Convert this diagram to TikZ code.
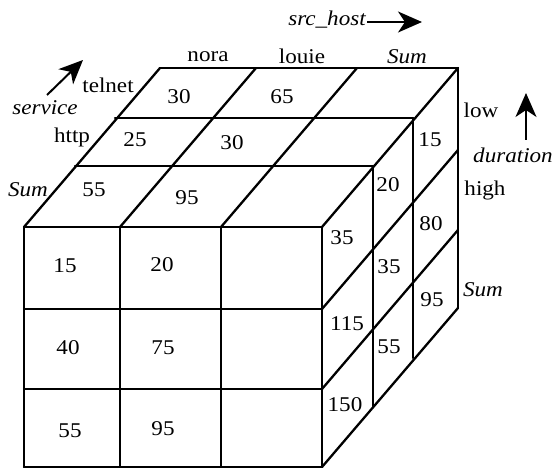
\documentclass[tikz,border=0pt]{standalone}
\usepackage{fontspec}
\setmainfont[FakeStretch=1.1]{Liberation Serif}
\usetikzlibrary{arrows.meta}
\begin{document}
\begin{tikzpicture}[x=1pt,y=-1pt,
  edge/.style={line width=2.3pt,line cap=round,line join=round},
  lbl/.style={inner sep=0pt,font=\fontsize{21}{24}\selectfont},
  ilbl/.style={lbl,font=\fontsize{21}{24}\selectfont\itshape},
  axis/.style={line width=2pt,-{Stealth[length=24pt,width=21pt,inset=7pt]}}]
\useasboundingbox (0,0) rectangle (554,468);
% grid coordinates
\def\xs{{24,120,221,322}}
\def\ys{{227,309,389,467}}
\def\dxs{{0,51,91,136}}
\def\dys{{0,-61,-109,-159}}
\foreach \i in {0,...,3}{
  \foreach \j in {0,...,3}{
    \foreach \k in {0,...,3}{
      \pgfmathsetmacro\px{\xs[\i]+\dxs[\k]}
      \pgfmathsetmacro\py{\ys[\j]+\dys[\k]}
      \coordinate (P-\i-\j-\k) at (\px,\py);
    }}}
% front face
\foreach \i in {0,...,3}{\draw[edge] (P-\i-0-0) -- (P-\i-3-0);}
\foreach \j in {0,...,3}{\draw[edge] (P-0-\j-0) -- (P-3-\j-0);}
% top face
\foreach \k in {1,...,3}{\draw[edge] (P-0-0-\k) -- (P-3-0-\k);}
\foreach \i in {0,...,3}{\draw[edge] (P-\i-0-0) -- (P-\i-0-3);}
% right face
\foreach \k in {1,...,3}{\draw[edge] (P-3-0-\k) -- (P-3-3-\k);}
\foreach \j in {1,...,3}{\draw[edge] (P-3-\j-0) -- (P-3-\j-3);}
% axis labels and arrows
\node[ilbl] (srch) at (327,20) {src\_host};
\coordinate (srcA) at (367,22);
\coordinate (srcB) at (422,22);
\draw[axis] (srcA) -- (srcB);
\node[ilbl] (serv) at (45,108) {service};
\coordinate (servA) at (47,95);
\coordinate (servB) at (83,60);
\draw[axis] (servA) -- (servB);
\node[ilbl] (dur) at (513,155) {duration};
\coordinate (durA) at (526,140);
\coordinate (durB) at (526,93);
\draw[axis] (durA) -- (durB);
% dimension values
\node[lbl] (nora) at (208,57) {nora};
\node[lbl] (louie) at (302,56) {louie};
\node[ilbl] (sumH) at (407,57) {Sum};
\node[lbl] (telnet) at (108,85) {telnet};
\node[lbl] (http) at (72,137) {http};
\node[ilbl] (sumS) at (28,190) {Sum};
\node[lbl] (low) at (481,110) {low};
\node[lbl] (high) at (485,190) {high};
\node[ilbl] (sumD) at (483,290) {Sum};
% top face numbers
\node[lbl] (t1) at (179,97) {30};
\node[lbl] (t2) at (282,97) {65};
\node[lbl] (t3) at (135,140) {25};
\node[lbl] (t4) at (232,143) {30};
\node[lbl] (t5) at (94,190) {55};
\node[lbl] (t6) at (187,198) {95};
% front face numbers
\node[lbl] (f1) at (65,266) {15};
\node[lbl] (f2) at (162,265) {20};
\node[lbl] (f3) at (68,348) {40};
\node[lbl] (f4) at (163,348) {75};
\node[lbl] (f5) at (70,431) {55};
\node[lbl] (f6) at (163,429) {95};
% right face numbers
\node[lbl] (r1) at (430,140) {15};
\node[lbl] (r2) at (431,224) {80};
\node[lbl] (r3) at (432,300) {95};
\node[lbl] (r4) at (388,185) {20};
\node[lbl] (r5) at (389,267) {35};
\node[lbl] (r6) at (389,347) {55};
\node[lbl] (r7) at (342,238) {35};
\node[lbl] (r8) at (347,324) {115};
\node[lbl] (r9) at (345,405) {150};
\end{tikzpicture}
\end{document}
